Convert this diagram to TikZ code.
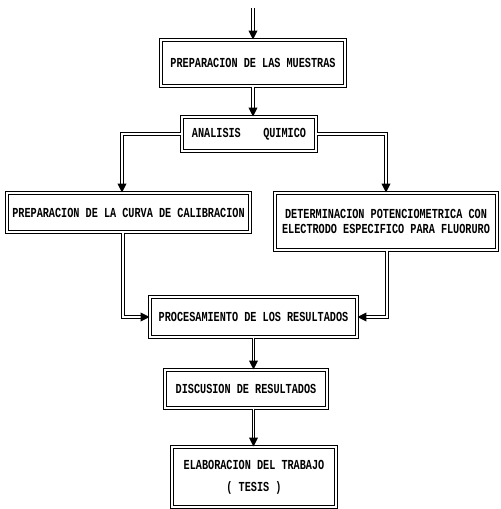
\documentclass[tikz,border=0pt]{standalone}
\usepackage{fontspec}
\setmonofont{Liberation Mono}
\usetikzlibrary{arrows.meta}
% uppercase labels set a little taller than the mono face
\newcommand\tallcaps[1]{\scalebox{1}[1.35]{#1}}
\begin{document}
\begin{tikzpicture}[x=0.02cm,y=-0.02cm,
  every node/.style={inner sep=0pt,align=center},
  stagebox/.style={draw,line width=0.6pt,double,double distance=1.2pt,
    font=\ttfamily\bfseries\fontsize{5.8}{8}\selectfont},
  flow/.style={line width=0.55pt,double,double distance=1.0pt,
    -{Triangle[length=5pt,width=5pt]}}]
  % page background and size
  \fill[white] (0,0) rectangle (500,509);
  \useasboundingbox (0,0) rectangle (500,509);

  % process stages
  \node[stagebox,minimum width=184*0.02cm,minimum height=46*0.02cm] (prep) at (253,63)
    {\tallcaps{PREPARACION DE LAS MUESTRAS}};
  \node[stagebox,minimum width=134*0.02cm,minimum height=34*0.02cm] (anal) at (249,134)
    {\tallcaps{ANALISIS\hspace{2.2em}QUIMICO}};
  \node[stagebox,minimum width=243*0.02cm,minimum height=39*0.02cm] (curva) at (128.5,212.5)
    {\tallcaps{PREPARACION DE LA CURVA DE CALIBRACION}};
  \node[stagebox,minimum width=222*0.02cm,minimum height=57*0.02cm] (pot) at (386,221.5)
    {\tallcaps{DETERMINACION POTENCIOMETRICA CON}\\[0.5pt]\tallcaps{ELECTRODO ESPECIFICO PARA FLUORURO}};
  \node[stagebox,minimum width=207*0.02cm,minimum height=40*0.02cm] (proc) at (253.5,317)
    {\tallcaps{PROCESAMIENTO DE LOS RESULTADOS}};
  \node[stagebox,minimum width=162*0.02cm,minimum height=38*0.02cm] (disc) at (246,389)
    {\tallcaps{DISCUSION DE RESULTADOS}};
  \node[stagebox,minimum width=164*0.02cm,minimum height=60*0.02cm,
    font=\ttfamily\bfseries\fontsize{5.8}{12.5}\selectfont] (elab) at (254,477)
    {\tallcaps{ELABORACION DEL TRABAJO}\\\tallcaps{( TESIS )}};

  % connectors
  \coordinate (start) at (253,8);
  \draw[flow] (start) -- (prep.north);
  \draw[flow] (prep.south) -- (prep.south |- anal.north);
  \draw[flow] (anal.west) -| ([xshift=-6.5*0.02cm]curva.north);
  \draw[flow] (anal.east) -| (curva.north -| pot.north);
  \draw[flow] ([xshift=-5.5*0.02cm]curva.south) |- (proc.west);
  \draw[flow] ([xshift=1*0.02cm]pot.south) |- (proc.east);
  \draw[flow] (proc.south) -- (proc.south |- disc.north);
  \draw[flow] (proc.south |- disc.south) -- (proc.south |- elab.north);
\end{tikzpicture}
\end{document}
